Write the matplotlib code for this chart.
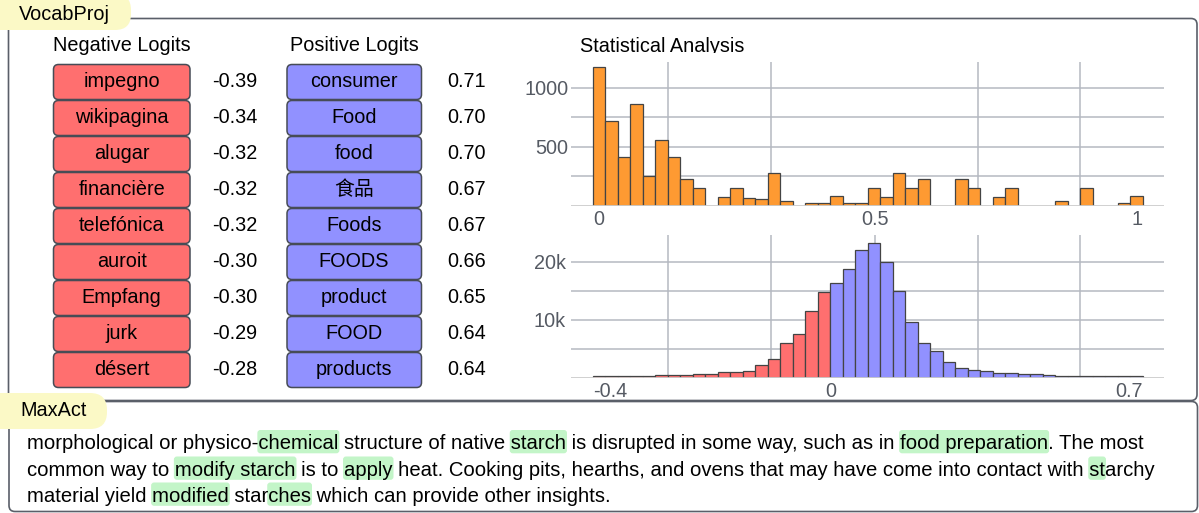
import matplotlib
matplotlib.use('Agg')
import matplotlib.pyplot as plt
import numpy as np
from matplotlib.patches import FancyBboxPatch
from matplotlib.transforms import Bbox

plt.rcParams['font.family'] = ['Liberation Sans', 'Noto Sans CJK SC', 'DejaVu Sans']

W, H = 1199, 513
FS = 14.3
FS_TEXT = 14.6

# ---- data ----
neg_tokens = ['impegno', 'wikipagina', 'alugar', 'financière', 'telefónica',
              'auroit', 'Empfang', 'jurk', 'désert']
neg_logits = [-0.39, -0.34, -0.32, -0.32, -0.32, -0.30, -0.30, -0.29, -0.28]
pos_tokens = ['consumer', 'Food', 'food', '食品', 'Foods', 'FOODS',
              'product', 'FOOD', 'products']
pos_logits = [0.71, 0.70, 0.70, 0.67, 0.67, 0.66, 0.65, 0.64, 0.64]

# activation histogram (44 bins)
act_counts = [1173, 716, 409, 866, 253, 560, 409, 224, 151, 0,
              74, 151, 62, 57, 273, 40, 0, 23, 23, 82,
              23, 23, 151, 74, 273, 151, 224, 0, 0, 224,
              151, 0, 74, 151, 0, 0, 0, 40, 0, 151,
              0, 0, 23, 82]
act_ticklabels = ['0', '0.5', '1']

# logit histogram (44 bins, first 19 negative)
logit_counts = [400, 400, 400, 400, 400, 520, 520, 520, 750, 750,
                1090, 1030, 1260, 2180, 3280, 6030, 7530, 11490, 14770,
                16440, 18740, 22010, 23220, 20060, 15060, 9600, 5980, 4710,
                2700, 1780, 1380, 1150, 800, 800, 630, 630, 460,
                400, 400, 400, 400, 400, 400, 400]
n_neg_bins = 19
logit_ticklabels = ['-0.4', '0', '0.7']

# max-activating text, (piece, highlighted)
maxact_lines = [
    [("morphological or physico-", False), ("chemical", True),
     (" structure of native ", False), ("starch", True),
     (" is disrupted in some way, such as in ", False),
     ("food preparation", True), (". The most", False)],
    [("common way to ", False), ("modify starch", True), (" is to ", False),
     ("apply", True),
     (" heat. Cooking pits, hearths, and ovens that may have come into contact with ", False),
     ("st", True), ("archy", False)],
    [("material yield ", False), ("modified", True), (" star", False),
     ("ches", True), (" which can provide other insights.", False)],
]

RED = '#ff6f6f'
BLUE = '#9191ff'
ORANGE = '#fe9a32'
EDGE = '#474c56'
PANEL = '#5a5f69'
PILL = '#fbf9c6'
GREEN = '#c3f5c8'
GRID = '#b5b9c1'
TICK = '#555a63'

fig = plt.figure(figsize=(W / 100, H / 100), dpi=100)
ax0 = fig.add_axes([0, 0, 1, 1])
ax0.set_xlim(0, W)
ax0.set_ylim(H, 0)
ax0.axis('off')


def rbox(x, y, w, h, r, fc, ec, lw, z):
    p = FancyBboxPatch((x, y), w, h, boxstyle=f'round,pad=0,rounding_size={r}',
                       fc=fc, ec=ec, lw=lw, zorder=z)
    ax0.add_patch(p)


# panels and their labels
rbox(8.5, 18.5, 1188.5, 382, 6, 'white', PANEL, 1.2, 1)
rbox(9, 401.5, 1188.5, 110, 6, 'white', PANEL, 1.2, 1)
rbox(-20, -6, 151, 36, 16, PILL, 'none', 0, 2)
rbox(-20, 393, 127, 36, 17, PILL, 'none', 0, 2)
ax0.text(19, 19.5, 'VocabProj', fontsize=FS, va='baseline', zorder=3)
ax0.text(20, 416.5, 'MaxAct', fontsize=FS, va='baseline', zorder=3)

# logit tables
ax0.text(122, 50.7, 'Negative Logits', fontsize=FS, ha='center', va='baseline')
ax0.text(354, 50.7, 'Positive Logits', fontsize=FS, ha='center', va='baseline')
for i in range(len(neg_tokens)):
    top = 64.5 + 36 * i
    rbox(53.5, top, 136.5, 35, 5, RED, EDGE, 1.1, 2)
    rbox(287, top, 134.5, 35, 5, BLUE, EDGE, 1.1, 2)
    base = top + 22.7
    ax0.text(121.7, base, neg_tokens[i], fontsize=FS, ha='center', va='baseline', zorder=3)
    ax0.text(235, base, f'{neg_logits[i]:.2f}', fontsize=FS, ha='center', va='baseline')
    ax0.text(354, base, pos_tokens[i], fontsize=FS, ha='center', va='baseline', zorder=3)
    ax0.text(466.5, base, f'{pos_logits[i]:.2f}', fontsize=FS, ha='center', va='baseline')

# title, clipped at the top of the chart like in the picture
t = ax0.text(580, 51.5, 'Statistical Analysis', fontsize=FS, va='baseline')
t.set_clip_box(Bbox.from_extents(0, H - 52.5, W, H))
t.set_clip_on(True)


def px_rect(x0, y0, x1, y1):
    return [x0 / W, 1 - y1 / H, (x1 - x0) / W, (y1 - y0) / H]


grid_x = [6.0, 14.28, 22.56, 30.8, 39.0]


def hist_panel(rect, counts, colors, ymax, yticks, ylabels, yminor, xticks, xlabels, ypad):
    ax = fig.add_axes(rect)
    ax.set_facecolor('none')
    counts = np.array(counts)
    lws = np.where(counts > 0, 0.9, 0)
    ax.bar(np.arange(len(counts)), counts, width=1, align='edge', color=colors,
           edgecolor='#444444', linewidth=lws, zorder=3)
    ax.axhline(0, color='#cccccc', lw=2, zorder=4)
    ax.set_xlim(-1.72, 45.7)
    ax.set_ylim(0, ymax)
    ax.set_xticks(xticks)
    ax.set_xticklabels(xlabels)
    ax.set_xticks(grid_x, minor=True)
    ax.set_yticks(yticks)
    ax.set_yticklabels(ylabels)
    ax.set_yticks(yminor, minor=True)
    ax.set_axisbelow(True)
    ax.grid(axis='y', which='both', color=GRID, lw=1.1)
    ax.grid(axis='x', which='minor', color=GRID, lw=1.1)
    ax.tick_params(which='both', length=0, labelsize=FS, labelcolor=TICK)
    ax.tick_params(axis='x', pad=3)
    ax.tick_params(axis='y', pad=ypad)
    labs = ax.get_xticklabels()
    labs[0].set_ha('left')
    labs[-1].set_ha('right')
    for s in ax.spines.values():
        s.set_visible(False)
    return ax


n = len(act_counts)
hist_panel(px_rect(571.3, 62, 1164, 205.7), act_counts, ORANGE, 1218,
           [500, 1000], ['500', '1000'], [250, 750],
           [0, 22.56, n], act_ticklabels, 2)

colors = [RED if i < n_neg_bins else BLUE for i in range(len(logit_counts))]
hist_panel(px_rect(571.3, 235, 1164, 378), logit_counts, colors, 24650,
           [10000, 20000], ['10k', '20k'], [5000, 15000],
           [0, n_neg_bins, len(logit_counts)], logit_ticklabels, 4)

# max-activating paragraph with highlighted pieces
renderer = fig.canvas.get_renderer()


def width(s):
    a = ax0.text(0, 0, '|' + s + '|', fontsize=FS_TEXT)
    b = ax0.text(0, 0, '||', fontsize=FS_TEXT)
    w = a.get_window_extent(renderer).width - b.get_window_extent(renderer).width
    a.remove()
    b.remove()
    return w


x0 = 27
baselines = [449.3, 475.8, 501.8]
for line, base in zip(maxact_lines, baselines):
    full = ''.join(p for p, _ in line)
    ax0.text(x0, base, full, fontsize=FS_TEXT, va='baseline', zorder=3)
    prefix = ''
    for piece, hl in line:
        if hl:
            xs = x0 + width(prefix)
            rbox(xs - 1, base - 19.3, width(piece) + 2, 23.3, 3, GREEN, 'none', 0, 2)
        prefix += piece

fig.savefig('out.png', dpi=100)
